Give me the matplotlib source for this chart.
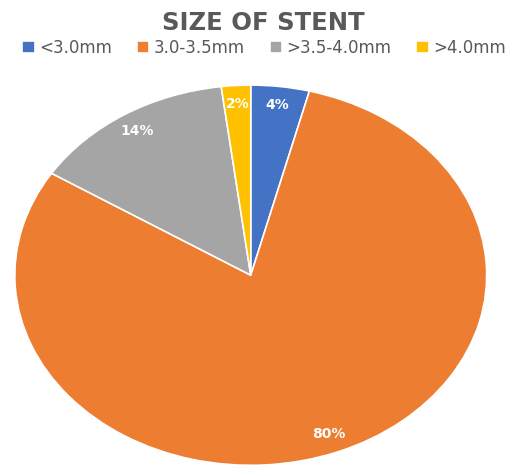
import matplotlib.pyplot as plt

labels = ["<3.0mm", "3.0-3.5mm", ">3.5-4.0mm", ">4.0mm"]
values = [4, 80, 14, 2]
colors = ["#4472C4", "#ED7D31", "#A5A5A5", "#FFC000"]

fig = plt.figure(figsize=(5.29, 4.70), dpi=100)
ax = fig.add_axes([0.028, 0.010, 0.892, 0.809])

wedges, texts, autotexts = ax.pie(
    values, colors=colors, startangle=90, counterclock=False,
    autopct="%1.0f%%", pctdistance=0.9,
    wedgeprops=dict(edgecolor="white", linewidth=1.2),
    textprops=dict(color="white", fontsize=10, fontweight="bold"))
ax.set_aspect("auto")
ax.set_xlim(-1, 1)
ax.set_ylim(-1, 1)

fig.text(0.498, 0.951, "SIZE OF STENT", ha="center", va="center",
         fontsize=17.5, fontweight="bold", color="#595959")
fig.legend(wedges, labels, loc="center", bbox_to_anchor=(0.499, 0.898), ncol=4,
           frameon=False, fontsize=12, handlelength=0.75, handleheight=0.75,
           handletextpad=0.25, columnspacing=1.5, labelcolor="#595959")

fig.savefig("out.png", dpi=100)
